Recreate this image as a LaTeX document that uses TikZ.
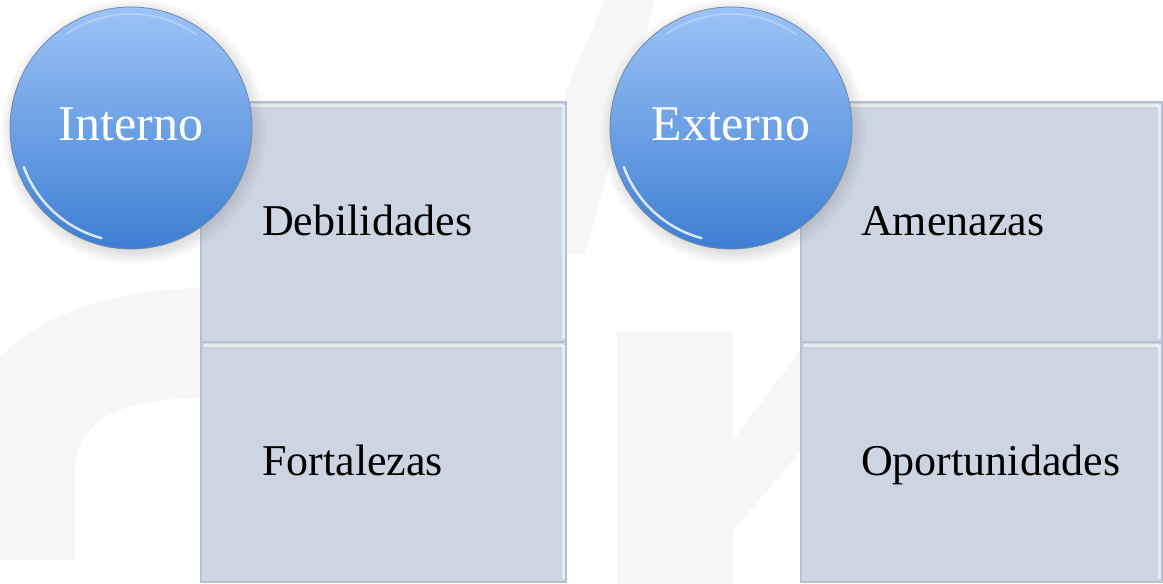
\documentclass[tikz,border=0pt]{standalone}
\usepackage{fontspec}
\setmainfont{Liberation Serif}
\usetikzlibrary{shadows}
\definecolor{boxfill}{RGB}{205,212,226}
\definecolor{boxline}{RGB}{182,193,211}
\definecolor{balltop}{RGB}{156,195,247}
\definecolor{ballbot}{RGB}{62,126,210}
\definecolor{ballline}{RGB}{110,135,170}
\definecolor{wm}{RGB}{246,246,246}
\tikzset{
  boxnode/.style={draw=boxline, line width=1.2pt, fill=boxfill, minimum width=365pt, minimum height=240pt, anchor=north west, inner sep=0pt, outer sep=0pt},
  ballnode/.style={circle, minimum size=242pt, inner sep=0pt, top color=balltop, bottom color=ballbot, draw=ballline, line width=0.8pt,
    circular drop shadow={shadow xshift=2pt, shadow yshift=-3pt, opacity=0.35}},
  balltext/.style={text=white, font=\fontsize{50}{60}\selectfont, anchor=base, inner sep=0pt},
  boxtext/.style={text=black, font=\fontsize{44}{52}\selectfont, anchor=base west, inner sep=0pt},
  highlight/.style={white, opacity=0.55, line width=3pt},
}
\begin{document}
\begin{tikzpicture}[x=1pt,y=-1pt]
\useasboundingbox (0,0) rectangle (1163,584);
\clip (0,0) rectangle (1163,584);
\fill[white] (0,0) rectangle (1163,584);
% faint watermark shapes
\fill[wm] (0,357) .. controls (40,318) and (100,290) .. (205,288) -- (205,398)
  .. controls (120,398) and (76,420) .. (75,470) -- (75,560) -- (0,560) -- cycle;
\fill[wm] (605,0) -- (655,0) -- (585,255) -- (566,255) -- (566,90) -- cycle;
\fill[wm] (617,332) rectangle (733,584);
\fill[wm] (733,440) -- (801,350) -- (801,450) -- (733,530) -- cycle;
% boxes
\node[boxnode] (deb) at (201,102) {};
\node[boxnode] (fort) at (201,342) {};
\node[boxnode, minimum width=361pt] (amen) at (801,102) {};
\node[boxnode, minimum width=361pt] (opor) at (801,342) {};
\foreach \b in {deb,fort,amen,opor}{
  \draw[highlight] ([shift={(3pt,-3pt)}]\b.north west) -- ([shift={(-3pt,-3pt)}]\b.north east);
  \draw[highlight] ([shift={(-3pt,-3pt)}]\b.north east) -- ([shift={(-3pt,3pt)}]\b.south east);
}
\node[boxtext] (debT) at (262,235) {Debilidades};
\node[boxtext] (fortT) at (262,475) {Fortalezas};
\node[boxtext] (amenT) at (861,235) {Amenazas};
\node[boxtext] (oporT) at (861,475) {Oportunidades};
% balls
\node[ballnode] (int) at (131,128) {};
\node[ballnode] (ext) at (731,128) {};
\foreach \c in {int,ext}{
  \draw[white, opacity=0.8, line width=2.5pt, line cap=round] (\c.center) ++(105:114) arc[start angle=105, end angle=160, radius=114];
  \draw[white, opacity=0.25, line width=2pt, line cap=round] (\c.center) ++(235:114) arc[start angle=235, end angle=305, radius=114];
}
\node[balltext] (intT) at (131,140) {Interno};
\node[balltext] (extT) at (731,140) {Externo};
\end{tikzpicture}
\end{document}
